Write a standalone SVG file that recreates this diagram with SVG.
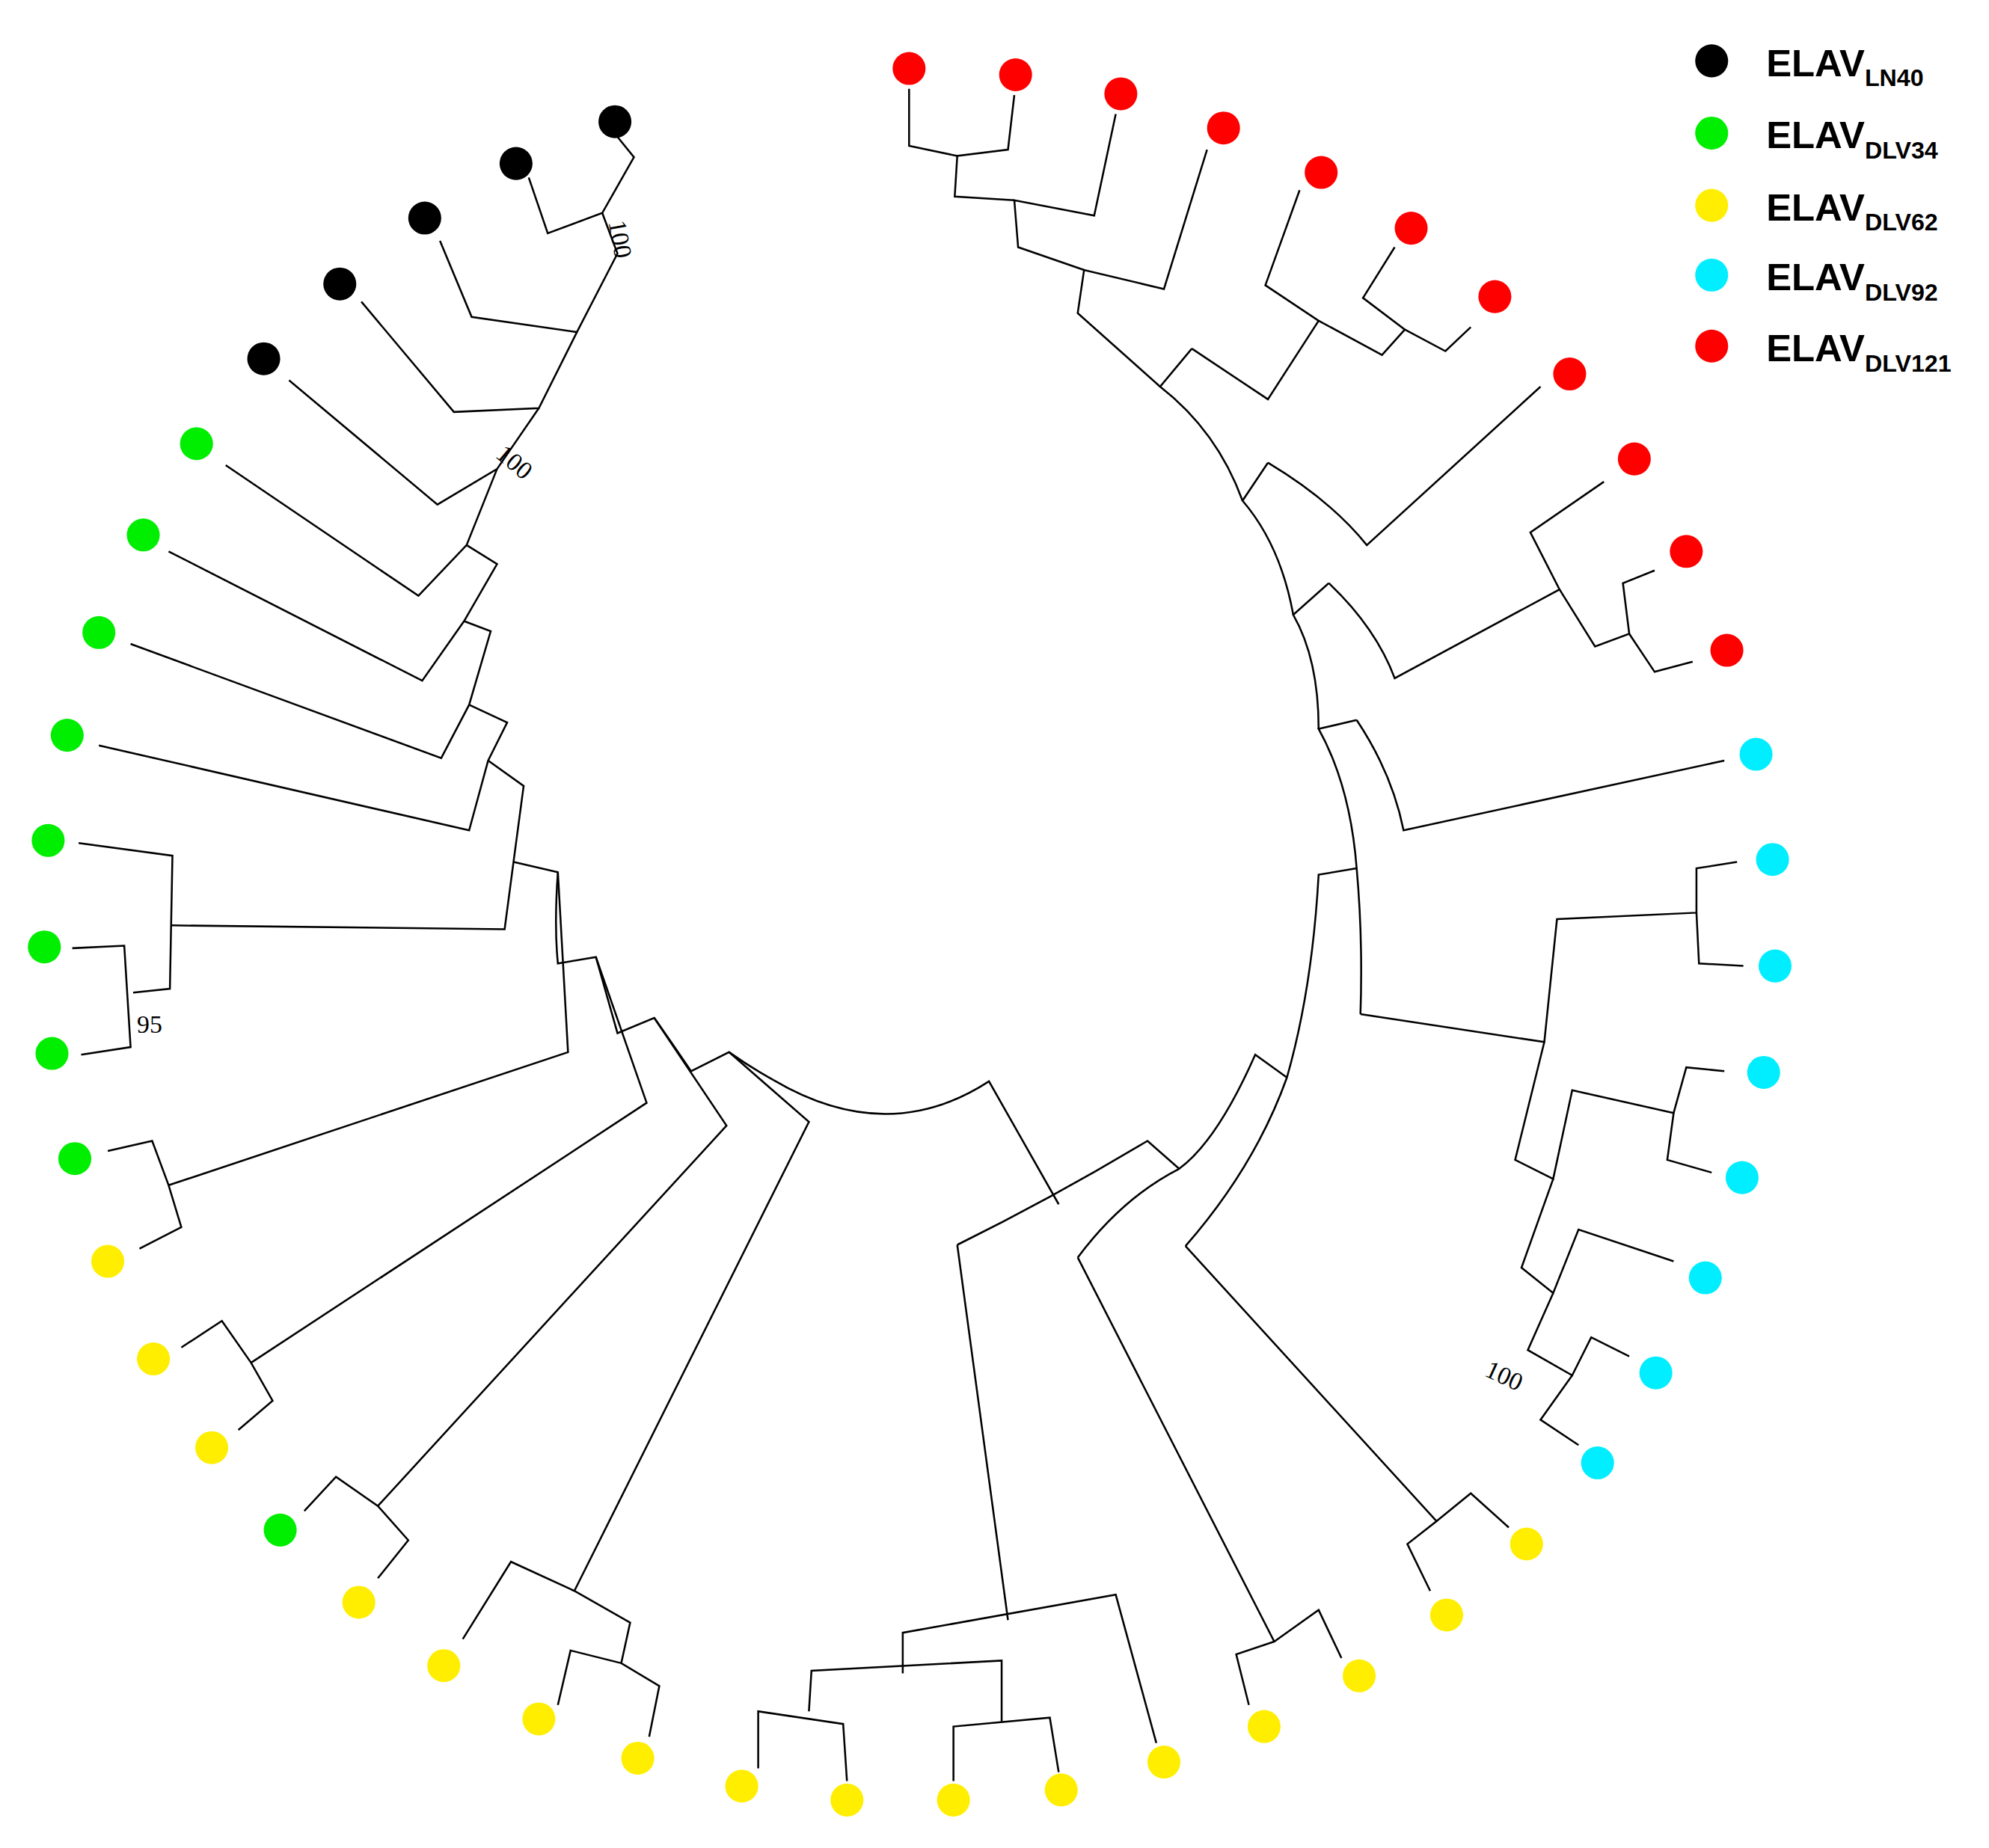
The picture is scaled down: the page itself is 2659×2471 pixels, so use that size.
<svg xmlns="http://www.w3.org/2000/svg" width="2659" height="2471" viewBox="0 0 2659 2471">
<style>
.e{fill:none;stroke:#000;stroke-width:1.5;stroke-linejoin:miter}
.k{fill:#000}.g{fill:#00ee00}.y{fill:#ffee00}.c{fill:#00eeff}.r{fill:#ff0000}
.lab{font-family:"Liberation Serif",serif;font-size:20px;fill:#000}
.lg{font-family:"Liberation Sans",Arial,sans-serif;font-weight:bold;font-size:30px;fill:#000}
.sb{font-size:19px}
</style>
<rect width="2659" height="2471" fill="#fff"/>
<g transform="scale(1.695)">
<g id="connectors">
<path class="e" d="M487,108 L500,124 L475,168 L432,184 L417,140"/>
<path class="e" d="M475,168 L487,200 L455,262 L372,250 L347,190"/>
<path class="e" d="M455,262 L425,322 L358,325 L285,238"/>
<path class="e" d="M425,322 L392,370 L345,398 L228,300"/>
<path class="e" d="M392,370 L368,430 L330,470 L178,367"/>
<path class="e" d="M368,430 L392,445 L366,490 L333,537 L133,435"/>
<path class="e" d="M366,490 L387,498 L370,556 L348,598 L103,508"/>
<path class="e" d="M370,556 L400,570 L385,600 L370,655 L78,588"/>
<path class="e" d="M385,600 L413,620 L405,680 L398,733 L135,730"/>
<path class="e" d="M62,665 L136,675 L134,780 L105,783"/>
<path class="e" d="M57,748 L98,746 L103,826 L64,832"/>
<path class="e" d="M405,680 L440,688 L448,830 L133,935"/>
<path class="e" d="M85,908 L120,900 L133,935 L143,968 L110,985"/>
<path class="e" d="M440,688 Q437,730 440,760 L470,755 L510,870 L198,1075"/>
<path class="e" d="M143,1063 L175,1042 L198,1075 L215,1105 L188,1128"/>
<path class="e" d="M470,755 Q480,790 487,815 L516,803 L573,888 L298,1188"/>
<path class="e" d="M240,1192 L265,1165 L298,1188 L322,1215 L298,1245"/>
<path class="e" d="M516,803 Q528,820 545,845 L575,830 L638,885 L453,1255"/>
<path class="e" d="M365,1293 L403,1232 L453,1255 L497,1280 L490,1312"/>
<path class="e" d="M440,1345 L450,1302 L490,1312 L520,1330 L512,1370"/>
<path class="e" d="M575,830 Q592,842 610,852"/>
<path class="e" d="M610,852 Q700,905 780,853 L835,950"/>
<path class="e" d="M755,982 Q830,945 905,900 L930,922"/>
<path class="e" d="M755,982 L795,1278"/>
<path class="e" d="M712,1320 L712,1288 L880,1258 L912,1375"/>
<path class="e" d="M638,1350 L640,1318 L790,1310 L790,1358"/>
<path class="e" d="M598,1395 L598,1350 L665,1360 L668,1405"/>
<path class="e" d="M752,1405 L752,1362 L828,1355 L835,1398"/>
<path class="e" d="M850,992 Q885,945 930,922 Q960,900 990,832 L1015,850"/>
<path class="e" d="M850,992 L1005,1295 L975,1305 L985,1345"/>
<path class="e" d="M1005,1295 L1040,1270 L1058,1308"/>
<path class="e" d="M935,983 Q990,920 1015,850 Q1035,780 1040,690 L1070,685"/>
<path class="e" d="M935,983 L1133,1200 L1110,1218 L1128,1255"/>
<path class="e" d="M1133,1200 L1160,1178 L1190,1205"/>
<path class="e" d="M1073,800 Q1075,740 1070,685 Q1065,620 1040,575 L1070,568"/>
<path class="e" d="M1073,800 L1218,822 L1228,725 L1338,720 L1338,685 L1370,680"/>
<path class="e" d="M1338,720 L1340,760 L1375,762"/>
<path class="e" d="M1218,822 L1195,915 L1225,930 L1240,860 L1320,878 L1330,842 L1360,845"/>
<path class="e" d="M1320,878 L1315,915 L1350,925"/>
<path class="e" d="M1225,930 L1200,1000 L1225,1020 L1245,970 L1320,995"/>
<path class="e" d="M1225,1020 L1205,1065 L1240,1085 L1255,1055 L1285,1070"/>
<path class="e" d="M1240,1085 L1215,1120 L1245,1140"/>
<path class="e" d="M1070,568 Q1098,610 1107,655 L1360,600"/>
<path class="e" d="M1040,575 Q1040,520 1020,485 L1048,460"/>
<path class="e" d="M1048,460 Q1085,495 1100,535 L1230,465 L1207,420 L1265,380"/>
<path class="e" d="M1230,465 L1258,510 L1285,500 L1280,460 L1305,450"/>
<path class="e" d="M1285,500 L1305,530 L1335,522"/>
<path class="e" d="M1020,485 Q1010,430 980,395 L1000,365"/>
<path class="e" d="M1000,365 Q1050,395 1078,430 L1215,305"/>
<path class="e" d="M980,395 Q960,340 915,305 L940,275"/>
<path class="e" d="M940,275 L1000,315 L1040,253 L998,225 L1025,150"/>
<path class="e" d="M1040,253 L1090,280 L1108,260 L1075,235 L1100,195"/>
<path class="e" d="M1108,260 L1140,277 L1160,258"/>
<path class="e" d="M915,305 L850,247 L855,213 L918,228 L952,118"/>
<path class="e" d="M855,213 L803,195 L800,158 L863,170 L880,90"/>
<path class="e" d="M800,158 L753,155 L755,123 L795,118 L800,75"/>
<path class="e" d="M755,123 L717,115 L717,70"/>
</g>
<g id="labels">
<text class="lab" transform="translate(480,175) rotate(80)">100</text>
<text class="lab" transform="translate(390,360) rotate(40)">100</text>
<text class="lab" x="108" y="815">95</text>
<text class="lab" transform="translate(1170,1085) rotate(25)">100</text>
</g>
<g id="tips">
<circle class="k" cx="485" cy="96" r="13"/><circle class="k" cx="407" cy="129" r="13"/><circle class="k" cx="335" cy="172" r="13"/><circle class="k" cx="268" cy="224" r="13"/><circle class="k" cx="208" cy="283" r="13"/>
<circle class="g" cx="155" cy="350" r="13"/><circle class="g" cx="113" cy="422" r="13"/><circle class="g" cx="78" cy="499" r="13"/><circle class="g" cx="53" cy="580" r="13"/><circle class="g" cx="38" cy="663" r="13"/><circle class="g" cx="35" cy="747" r="13"/><circle class="g" cx="41" cy="831" r="13"/><circle class="g" cx="59" cy="914" r="13"/><circle class="g" cx="221" cy="1207" r="13"/>
<circle class="y" cx="85" cy="995" r="13"/><circle class="y" cx="121" cy="1072" r="13"/><circle class="y" cx="167" cy="1142" r="13"/><circle class="y" cx="283" cy="1264" r="13"/><circle class="y" cx="350" cy="1314" r="13"/><circle class="y" cx="425" cy="1356" r="13"/><circle class="y" cx="503" cy="1387" r="13"/><circle class="y" cx="585" cy="1409" r="13"/><circle class="y" cx="668" cy="1420" r="13"/><circle class="y" cx="752" cy="1420" r="13"/><circle class="y" cx="837" cy="1412" r="13"/><circle class="y" cx="918" cy="1390" r="13"/><circle class="y" cx="997" cy="1362" r="13"/><circle class="y" cx="1072" cy="1322" r="13"/><circle class="y" cx="1141" cy="1274" r="13"/><circle class="y" cx="1204" cy="1218" r="13"/>
<circle class="c" cx="1260" cy="1154" r="13"/><circle class="c" cx="1306" cy="1083" r="13"/><circle class="c" cx="1345" cy="1008" r="13"/><circle class="c" cx="1374" cy="929" r="13"/><circle class="c" cx="1391" cy="846" r="13"/><circle class="c" cx="1400" cy="762" r="13"/><circle class="c" cx="1398" cy="678" r="13"/><circle class="c" cx="1385" cy="595" r="13"/>
<circle class="r" cx="1362" cy="513" r="13"/><circle class="r" cx="1330" cy="435" r="13"/><circle class="r" cx="1289" cy="362" r="13"/><circle class="r" cx="1238" cy="295" r="13"/><circle class="r" cx="1179" cy="234" r="13"/><circle class="r" cx="1113" cy="180" r="13"/><circle class="r" cx="1042" cy="136" r="13"/><circle class="r" cx="965" cy="101" r="13"/><circle class="r" cx="884" cy="74" r="13"/><circle class="r" cx="801" cy="59" r="13"/><circle class="r" cx="717" cy="54" r="13"/>
</g>
<g id="legend">
<circle class="k" cx="1350" cy="48" r="13"/><text class="lg" x="1393" y="60">ELAV<tspan class="sb" dy="8">LN40</tspan></text>
<circle class="g" cx="1350" cy="105" r="13"/><text class="lg" x="1393" y="117">ELAV<tspan class="sb" dy="8">DLV34</tspan></text>
<circle class="y" cx="1350" cy="162" r="13"/><text class="lg" x="1393" y="174">ELAV<tspan class="sb" dy="8">DLV62</tspan></text>
<circle class="c" cx="1350" cy="217" r="13"/><text class="lg" x="1393" y="229">ELAV<tspan class="sb" dy="8">DLV92</tspan></text>
<circle class="r" cx="1350" cy="273" r="13"/><text class="lg" x="1393" y="285">ELAV<tspan class="sb" dy="8">DLV121</tspan></text>
</g>
</g>
</svg>
